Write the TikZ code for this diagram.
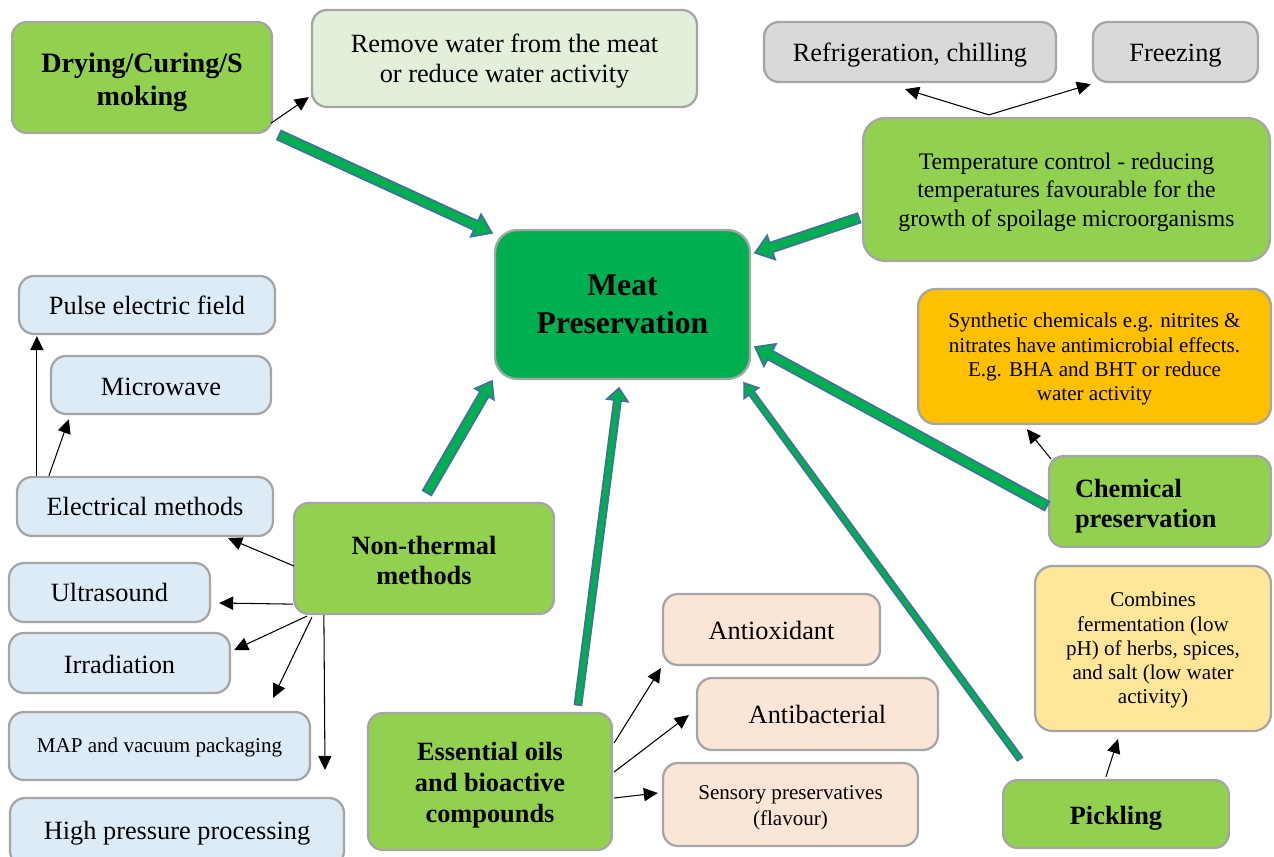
\documentclass[tikz,border=0pt]{standalone}
\usepackage{fontspec}
\setmainfont{Liberation Serif}
\usetikzlibrary{arrows.meta, calc}
\definecolor{leafgreen}{RGB}{146,208,80}
\definecolor{meatgreen}{RGB}{0,176,80}
\definecolor{palegreen}{RGB}{226,239,218}
\definecolor{palegray}{RGB}{217,217,217}
\definecolor{amber}{RGB}{255,192,0}
\definecolor{paleyellow}{RGB}{255,230,153}
\definecolor{paleblue}{RGB}{221,235,247}
\definecolor{peach}{RGB}{251,229,214}
\definecolor{rimgray}{RGB}{165,165,165}
\definecolor{steelblue}{RGB}{65,113,156}

% block arrow: tail, tip, half shaft, half head, head length
\newcommand{\fatarrow}[5]{%
  \coordinate (fa) at ($(#2)!#5!(#1)$);
  \filldraw[fat] ($(#1)!#3!90:(#2)$) -- ($(fa)!#3!90:(#2)$) -- ($(fa)!#4!90:(#2)$) -- (#2)
    -- ($(fa)!#4!-90:(#2)$) -- ($(fa)!#3!-90:(#2)$) -- ($(#1)!#3!-90:(#2)$) -- cycle;}
% taller first line, pushes the text down a little
\newcommand{\lift}[1]{\rule{0pt}{#1em}}

\tikzset{
  box/.style={rectangle, rounded corners=0.3cm, draw=rimgray, line width=1.3pt,
    align=center, inner sep=2pt},
  leaf/.style={box, fill=leafgreen},
  drop/.style={execute at begin node={\lift{#1}}},
  txt/.style={font=\fontsize{15}{17}\selectfont},
  smalltxt/.style={font=\fontsize{12}{13.8}\selectfont},
  head/.style={font=\fontsize{15}{17.5}\selectfont\bfseries},
  link/.style={-{Triangle[length=8pt,width=7.5pt]}, line width=0.6pt},
  fat/.style={fill=meatgreen, draw=steelblue, line width=1pt, line join=miter}
}

\begin{document}
\begin{tikzpicture}[x=0.02cm, y=-0.02cm]
  \useasboundingbox (0,0) rectangle (1274,857);

  % centre
  \node[box, fill=meatgreen, rounded corners=0.45cm, minimum width=5.1cm, minimum height=2.98cm,
    font=\fontsize{18}{21.5}\selectfont\bfseries] (meat) at (622.5,304.5) {Meat\\Preservation};

  % drying
  \node[leaf, minimum width=5.2cm, minimum height=2.22cm, font=\fontsize{16}{19}\selectfont\bfseries]
    (dry) at (142,77.5) {\lift{1.04}Drying/Curing/S\\moking};
  \node[box, fill=palegreen, txt, minimum width=7.7cm, minimum height=1.94cm]
    (remove) at (504.5,58.5) {\lift{0.9}Remove water from the meat\\or reduce water activity};

  % temperature
  \node[leaf, rounded corners=0.45cm, minimum width=8.14cm, minimum height=2.86cm,
    font=\fontsize{13.5}{16.2}\selectfont] (temp) at (1066.5,189.5)
    {\lift{0.93}Temperature control - reducing\\temperatures favourable for the\\growth of spoilage microorganisms};
  \node[box, fill=palegray, txt, drop=0.95, minimum width=5.84cm, minimum height=1.2cm]
    (refrig) at (910,52) {Refrigeration, chilling};
  \node[box, fill=palegray, txt, drop=0.95, minimum width=3.3cm, minimum height=1.2cm]
    (freeze) at (1175.5,52) {Freezing};

  % chemical
  \node[box, fill=amber, smalltxt, rounded corners=0.35cm, minimum width=7.06cm, minimum height=2.7cm]
    (synth) at (1094.5,356.5) {\lift{0.96}Synthetic chemicals e.g. nitrites \&\\nitrates have antimicrobial effects.\\E.g. BHA and BHT or reduce\\water activity};
  \node[leaf, head, drop=1.05, align=left, text width=3.4cm, inner xsep=0.52cm, minimum height=1.82cm]
    (chem) at (1160,501.5) {Chemical\\preservation};

  % pickling
  \node[box, fill=paleyellow, smalltxt, rounded corners=0.35cm, minimum width=4.72cm, minimum height=3.3cm]
    (combine) at (1153,648.5) {\lift{0.87}Combines\\fermentation (low\\pH) of herbs, spices,\\and salt (low water\\activity)};
  \node[leaf, head, drop=1.05, minimum width=4.52cm, minimum height=1.36cm] (pickle) at (1116,814) {Pickling};

  % non-thermal
  \node[leaf, head, minimum width=5.2cm, minimum height=2.22cm] (nonth) at (424,558.5) {\lift{0.84}Non-thermal\\methods};
  \node[box, fill=paleblue, txt, drop=0.7, minimum width=5.12cm, minimum height=1.16cm] (pulse) at (147,305) {Pulse electric field};
  \node[box, fill=paleblue, txt, drop=0.8, minimum width=4.4cm, minimum height=1.16cm] (micro) at (161,385) {Microwave};
  \node[box, fill=paleblue, txt, drop=0.7, minimum width=5.12cm, minimum height=1.18cm] (elec) at (145,506.5) {Electrical methods};
  \node[box, fill=paleblue, txt, drop=0.7, minimum width=4.02cm, minimum height=1.18cm] (ultra) at (109.5,592.5) {Ultrasound};
  \node[box, fill=paleblue, txt, drop=0.8, minimum width=4.42cm, minimum height=1.2cm] (irrad) at (119.5,663) {Irradiation};
  \node[box, fill=paleblue, smalltxt, drop=0.85, minimum width=6.02cm, minimum height=1.36cm] (map) at (159.5,746) {MAP and vacuum packaging};
  \node[box, fill=paleblue, txt, drop=0.8, minimum width=6.68cm, minimum height=1.36cm] (hpp) at (177,832) {High pressure processing};

  % essential oils
  \node[leaf, head, minimum width=4.88cm, minimum height=2.74cm] (oils) at (490,781.5) {\lift{0.98}Essential oils\\and bioactive\\compounds};
  \node[box, fill=peach, txt, drop=0.8, minimum width=4.34cm, minimum height=1.42cm] (antiox) at (771.5,629.5) {Antioxidant};
  \node[box, fill=peach, txt, drop=0.7, minimum width=4.82cm, minimum height=1.44cm] (antibac) at (817.5,714) {Antibacterial};
  \node[box, fill=peach, font=\fontsize{12}{14.5}\selectfont, minimum width=5.1cm, minimum height=1.66cm]
    (sensory) at (790.5,804.5) {\lift{0.96}Sensory preservatives\\(flavour)};

  % thin links
  \draw[link] ($(dry.south east)+(-2,-11)$) -- ($(remove.south west)+(-2,-11)$);
  \coordinate (tempTop) at ($(temp.north west)+(127,-2)$);
  \draw[link] (tempTop) -- ($(refrig.south)+(-5,6)$);
  \draw[link] (tempTop) -- ($(freeze.south west)+(-1,1)$);
  \draw[link] ($(elec.north west)+(21,0)$) -- ($(pulse.south west)+(19,1)$);
  \draw[link] ($(elec.north west)+(33,0)$) -- ($(micro.south west)+(19,4)$);
  \draw[link] ($(nonth.west)+(1,7.5)$) -- ($(elec.south east)+(-46,1)$);
  \draw[link] ($(nonth.south west)+(0,-11)$) -- ($(ultra.east)+(8,10.5)$);
  \draw[link] ($(nonth.south west)+(14,1)$) -- ($(irrad.east)+(3,-13)$);
  \coordinate (mapEnd) at (273,698);
  \coordinate (downEnd) at (325,770);
  \draw[link] ($(nonth.south west)+(19,2)$) -- (mapEnd);
  \draw[link] ($(nonth.south west)+(31,0)$) -- (downEnd);
  \draw[link] ($(chem.north west)+(3,4)$) -- ($(synth.south west)+(110,4)$);
  \draw[link] ($(pickle.north west)+(104,-2)$) -- ($(combine.south)+(-35,7)$);
  \draw[link] ($(oils.east)+(1,-38.5)$) -- ($(antiox.south west)+(-1,2)$);
  \draw[link] ($(oils.east)+(1,-9.5)$) -- ($(antibac.west)+(-7,1)$);
  \draw[link] ($(oils.east)+(1,16.5)$) -- ($(sensory.west)+(-4,-11.5)$);

  % block arrows into the centre
  \coordinate (dryT) at ($(dry.south east)+(6,1)$);
  \coordinate (dryH) at ($(meat.north west)+(-2,4)$);
  \fatarrow{dryT}{dryH}{2.8pt}{7pt}{10pt}
  \coordinate (tempT) at ($(temp.west)+(-3,28.5)$);
  \coordinate (tempH) at ($(meat.north east)+(4,24)$);
  \fatarrow{tempT}{tempH}{2.8pt}{7.2pt}{9.6pt}
  \coordinate (chemT) at ($(chem.west)+(-1,4.5)$);
  \coordinate (chemH) at ($(meat.east)+(4,42.5)$);
  \fatarrow{chemT}{chemH}{2.8pt}{7.2pt}{9.6pt}
  \coordinate (pickT) at ($(pickle.north west)+(18,-20)$);
  \coordinate (pickH) at ($(meat.south east)+(-7,3)$);
  \fatarrow{pickT}{pickH}{1.7pt}{5pt}{7pt}
  \coordinate (oilsT) at ($(oils.north)+(88,-7)$);
  \coordinate (oilsH) at ($(meat.south)+(-3.5,8)$);
  \fatarrow{oilsT}{oilsH}{2pt}{6pt}{7pt}
  \coordinate (nonthT) at ($(nonth.north)+(3,-9)$);
  \coordinate (nonthH) at ($(meat.south west)+(-2,1)$);
  \fatarrow{nonthT}{nonthH}{2.8pt}{6.2pt}{8.5pt}
\end{tikzpicture}
\end{document}
